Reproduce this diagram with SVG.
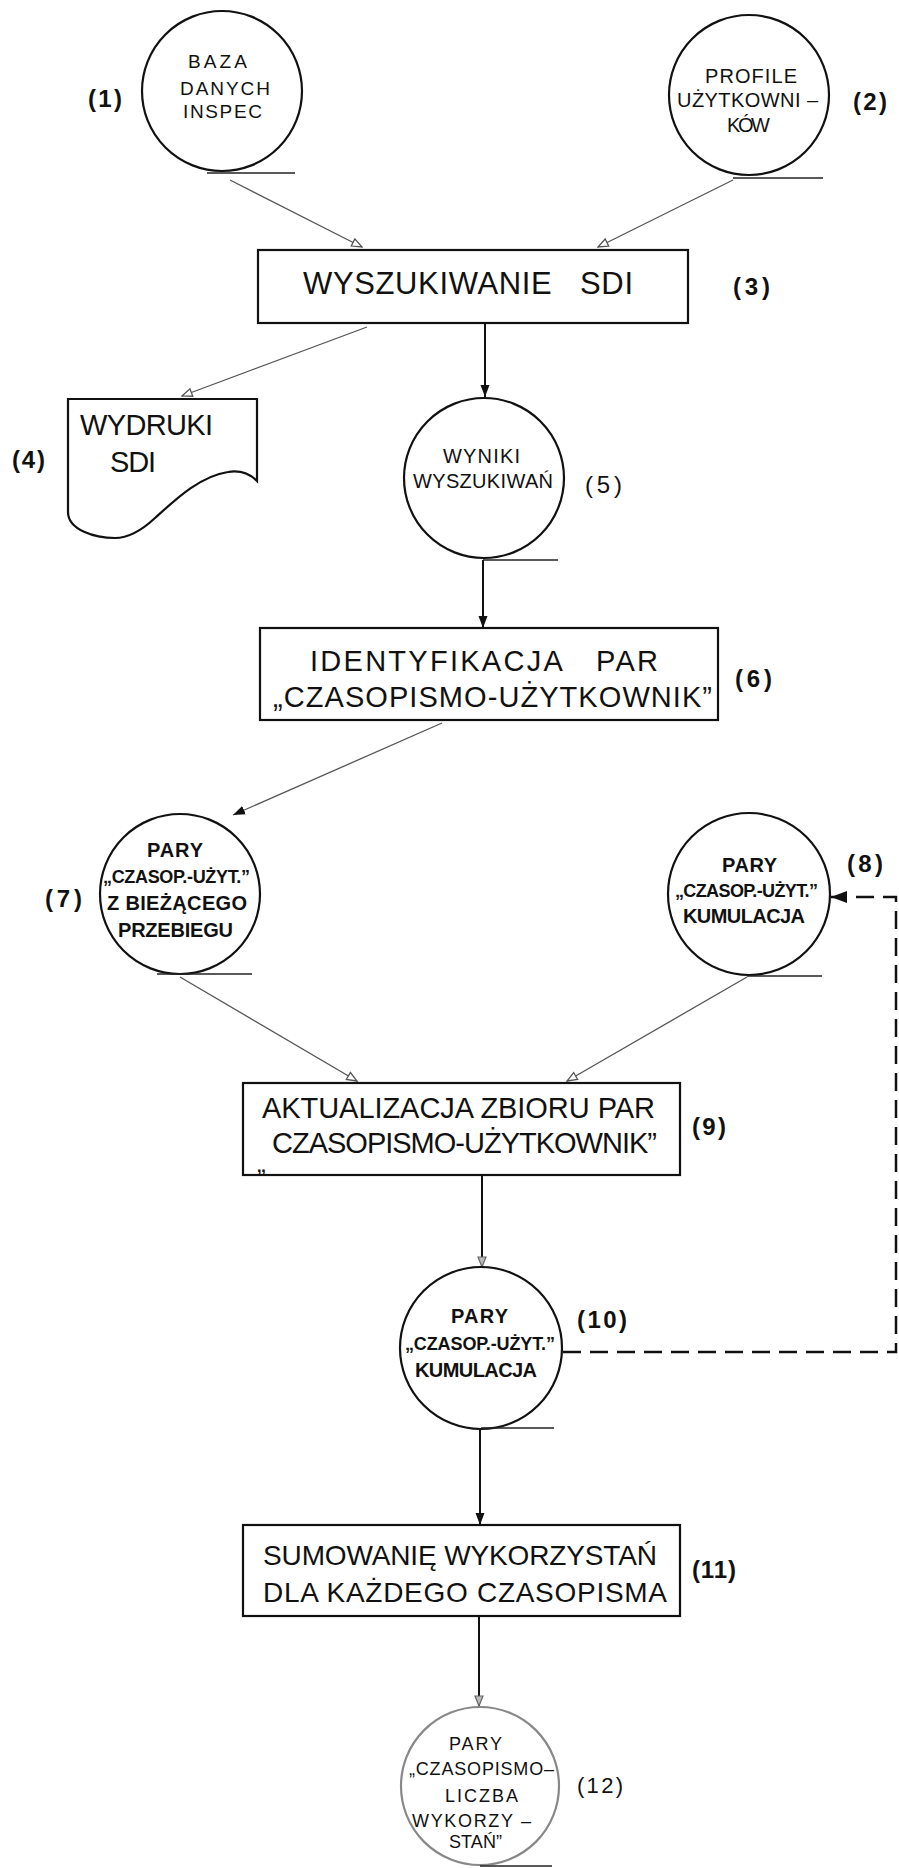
<svg xmlns="http://www.w3.org/2000/svg" width="899" height="1868" viewBox="0 0 899 1868">
<style>
.bg{fill:#fff}
.box{fill:#fff;stroke:#111;stroke-width:2.2}
.circ{fill:#fff;stroke:#111;stroke-width:2.2}
.faint{stroke:#888}
.tan{stroke:#222;stroke-width:1.5;fill:none}
.t{font-family:"Liberation Sans",Arial,sans-serif;fill:#111}
.b{font-weight:bold}
.lbl{font-family:"Liberation Sans",Arial,sans-serif;font-weight:bold;font-size:24px;fill:#111}
.conn{stroke:#111;stroke-width:2;fill:none}
.thin{stroke:#555;stroke-width:1.3;fill:none}
.dash{stroke:#111;stroke-width:2.5;stroke-dasharray:18 9;fill:none}
</style>
<defs>
<marker id="af" viewBox="0 0 12 12" refX="12" refY="6" markerWidth="12" markerHeight="12" orient="auto" markerUnits="userSpaceOnUse"><path d="M0,1.5 L12,6 L0,10.5 z" fill="#111"/></marker>
<marker id="ab" viewBox="0 0 16 16" refX="16" refY="8" markerWidth="16" markerHeight="16" orient="auto" markerUnits="userSpaceOnUse"><path d="M0,2 L16,8 L0,14 z" fill="#111"/></marker>
<marker id="ao" viewBox="0 0 12 12" refX="11" refY="6" markerWidth="12" markerHeight="12" orient="auto" markerUnits="userSpaceOnUse"><path d="M1,2 L11,6 L1,10 z" fill="#fff" stroke="#555" stroke-width="1.3"/></marker>
<marker id="ag" viewBox="0 0 12 12" refX="11" refY="6" markerWidth="12" markerHeight="12" orient="auto" markerUnits="userSpaceOnUse"><path d="M1,2 L11,6 L1,10 z" fill="#bbb" stroke="#666" stroke-width="1.2"/></marker>
</defs>
<rect class="bg" x="0" y="0" width="899" height="1868"/>

<g id="connectors">
<line class="thin" x1="230" y1="180" x2="362" y2="247" marker-end="url(#ao)"/>
<line class="thin" x1="733" y1="180" x2="598" y2="247" marker-end="url(#ao)"/>
<line class="thin" x1="367" y1="327" x2="182" y2="396" marker-end="url(#ao)"/>
<line class="conn" x1="485" y1="323" x2="485" y2="397" marker-end="url(#af)"/>
<line class="conn" x1="483" y1="560" x2="483" y2="628" marker-end="url(#af)"/>
<line class="thin" x1="442" y1="723" x2="233" y2="815" marker-end="url(#af)"/>
<line class="thin" x1="180" y1="977" x2="357" y2="1081" marker-end="url(#ao)"/>
<line class="thin" x1="747" y1="977" x2="567" y2="1081" marker-end="url(#ao)"/>
<line class="conn" x1="482" y1="1175" x2="482" y2="1267" marker-end="url(#ag)"/>
<line class="conn" x1="480" y1="1428" x2="480" y2="1525" marker-end="url(#af)"/>
<line class="conn" x1="479" y1="1616" x2="479" y2="1706" marker-end="url(#ag)"/>
<polyline class="dash" points="563,1352 896,1352 896,897 831,897" marker-end="url(#ab)"/>
</g>

<g id="n1">
<circle class="circ" cx="222" cy="91" r="80" stroke="#222"/>
<line class="tan" x1="207" y1="173" x2="295" y2="173"/>
<text class="t" font-size="19" fill="#333"><tspan x="188" y="68" textLength="59" lengthAdjust="spacing">BAZA</tspan><tspan x="180" y="95" textLength="90" lengthAdjust="spacing">DANYCH</tspan><tspan x="183" y="118" textLength="79" lengthAdjust="spacing">INSPEC</tspan></text>
<text class="lbl" x="88" y="107" textLength="34" lengthAdjust="spacing">(1)</text>
</g>

<g id="n2">
<circle class="circ" cx="749" cy="95" r="80" stroke="#222"/>
<line class="tan" x1="733" y1="178" x2="823" y2="178"/>
<text class="t" font-size="20"><tspan x="705" y="83" textLength="92" lengthAdjust="spacing">PROFILE</tspan><tspan x="677" y="107" textLength="141" lengthAdjust="spacing">UŻYTKOWNI –</tspan><tspan x="727" y="132" textLength="43" lengthAdjust="spacing">KÓW</tspan></text>
<text class="lbl" x="853" y="110" textLength="34" lengthAdjust="spacing">(2)</text>
</g>

<g id="n3">
<rect class="box" x="258" y="250" width="430" height="73"/>
<text class="t" font-size="31" x="303" y="294" textLength="330" lengthAdjust="spacing">WYSZUKIWANIE&#160;&#160;&#160;SDI</text>
<text class="lbl" x="733" y="295" textLength="37" lengthAdjust="spacing">(3)</text>
</g>

<g id="n4">
<path class="box" d="M68,399 H257 V481 C250,474 240,470 228,472 C200,476 175,500 155,518 C140,532 128,538 115,538 C95,538 68,530 68,512 Z"/>
<text class="t" font-size="29"><tspan x="80" y="435" textLength="133" lengthAdjust="spacing">WYDRUKI</tspan><tspan x="110" y="472" textLength="46" lengthAdjust="spacing">SDI</tspan></text>
<text class="lbl" x="12" y="468" textLength="33" lengthAdjust="spacing">(4)</text>
</g>

<g id="n5">
<circle class="circ" cx="484" cy="478" r="80"/>
<line class="tan" x1="483" y1="560" x2="558" y2="560"/>
<text class="t" font-size="20"><tspan x="443" y="463" textLength="77" lengthAdjust="spacing">WYNIKI</tspan><tspan x="413" y="488" textLength="140" lengthAdjust="spacing">WYSZUKIWAŃ</tspan></text>
<text class="t" font-size="24" x="585" y="493" textLength="37" lengthAdjust="spacing">(5)</text>
</g>

<g id="n6">
<rect class="box" x="260" y="628" width="458" height="92"/>
<text class="t" font-size="29"><tspan x="310" y="671" textLength="348" lengthAdjust="spacing">IDENTYFIKACJA&#160;&#160;&#160;PAR</tspan><tspan x="273" y="707" textLength="439" lengthAdjust="spacing">„CZASOPISMO-UŻYTKOWNIK”</tspan></text>
<text class="lbl" x="735" y="687" textLength="37" lengthAdjust="spacing">(6)</text>
</g>

<g id="n7">
<circle class="circ" cx="180" cy="894" r="80"/>
<line class="tan" x1="157" y1="974" x2="252" y2="974"/>
<text class="t b" font-size="20"><tspan x="147" y="857" textLength="56" lengthAdjust="spacing">PARY</tspan><tspan x="103" y="883" font-size="18" textLength="147" lengthAdjust="spacing">„CZASOP.-UŻYT.”</tspan><tspan x="107" y="910" textLength="140" lengthAdjust="spacing">Z BIEŻĄCEGO</tspan><tspan x="118" y="937" textLength="115" lengthAdjust="spacing">PRZEBIEGU</tspan></text>
<text class="lbl" x="45" y="907" textLength="37" lengthAdjust="spacing">(7)</text>
</g>

<g id="n8">
<circle class="circ" cx="749" cy="894" r="81"/>
<line class="tan" x1="747" y1="976" x2="822" y2="976"/>
<text class="t b" font-size="20"><tspan x="722" y="872" textLength="55" lengthAdjust="spacing">PARY</tspan><tspan x="675" y="897" font-size="18" textLength="143" lengthAdjust="spacing">„CZASOP.-UŻYT.”</tspan><tspan x="683" y="923" textLength="122" lengthAdjust="spacing">KUMULACJA</tspan></text>
<text class="lbl" x="847" y="872" textLength="36" lengthAdjust="spacing">(8)</text>
</g>

<g id="n9">
<rect class="box" x="243" y="1083" width="437" height="92"/>
<text class="t" font-size="29"><tspan x="262" y="1118" textLength="393" lengthAdjust="spacing">AKTUALIZACJA ZBIORU PAR</tspan><tspan x="272" y="1153" textLength="385" lengthAdjust="spacing">CZASOPISMO-UŻYTKOWNIK”</tspan></text>
<text class="t" font-size="26" x="257" y="1172">„</text>
<text class="lbl" x="692" y="1135" textLength="34" lengthAdjust="spacing">(9)</text>
</g>

<g id="n10">
<circle class="circ" cx="481" cy="1348" r="81"/>
<line class="tan" x1="481" y1="1428" x2="554" y2="1428"/>
<text class="t b" font-size="20"><tspan x="451" y="1323" textLength="57" lengthAdjust="spacing">PARY</tspan><tspan x="405" y="1350" font-size="18" textLength="150" lengthAdjust="spacing">„CZASOP.-UŻYT.”</tspan><tspan x="415" y="1377" textLength="122" lengthAdjust="spacing">KUMULACJA</tspan></text>
<text class="lbl" x="577" y="1328" textLength="50" lengthAdjust="spacing">(10)</text>
</g>

<g id="n11">
<rect class="box" x="243" y="1525" width="437" height="91"/>
<text class="t" font-size="28"><tspan x="263" y="1565" textLength="394" lengthAdjust="spacing">SUMOWANIĘ WYKORZYSTAŃ</tspan><tspan x="263" y="1602" textLength="404" lengthAdjust="spacing">DLA KAŻDEGO CZASOPISMA</tspan></text>
<text class="lbl" x="692" y="1578" textLength="44" lengthAdjust="spacing">(11)</text>
</g>

<g id="n12">
<circle class="circ faint" cx="480" cy="1786" r="79"/>
<line class="tan faint" x1="480" y1="1866" x2="552" y2="1866"/>
<text class="t" font-size="18" fill="#777"><tspan x="449" y="1750" textLength="53" lengthAdjust="spacing">PARY</tspan><tspan x="409" y="1775" textLength="145" lengthAdjust="spacing">„CZASOPISMO–</tspan><tspan x="445" y="1802" textLength="73" lengthAdjust="spacing">LICZBA</tspan><tspan x="412" y="1827" textLength="119" lengthAdjust="spacing">WYKORZY –</tspan><tspan x="449" y="1848" textLength="53" lengthAdjust="spacing">STAŃ”</tspan></text>
<text class="t" font-size="22" fill="#777" x="577" y="1793" textLength="46" lengthAdjust="spacing">(12)</text>
</g>
</svg>
